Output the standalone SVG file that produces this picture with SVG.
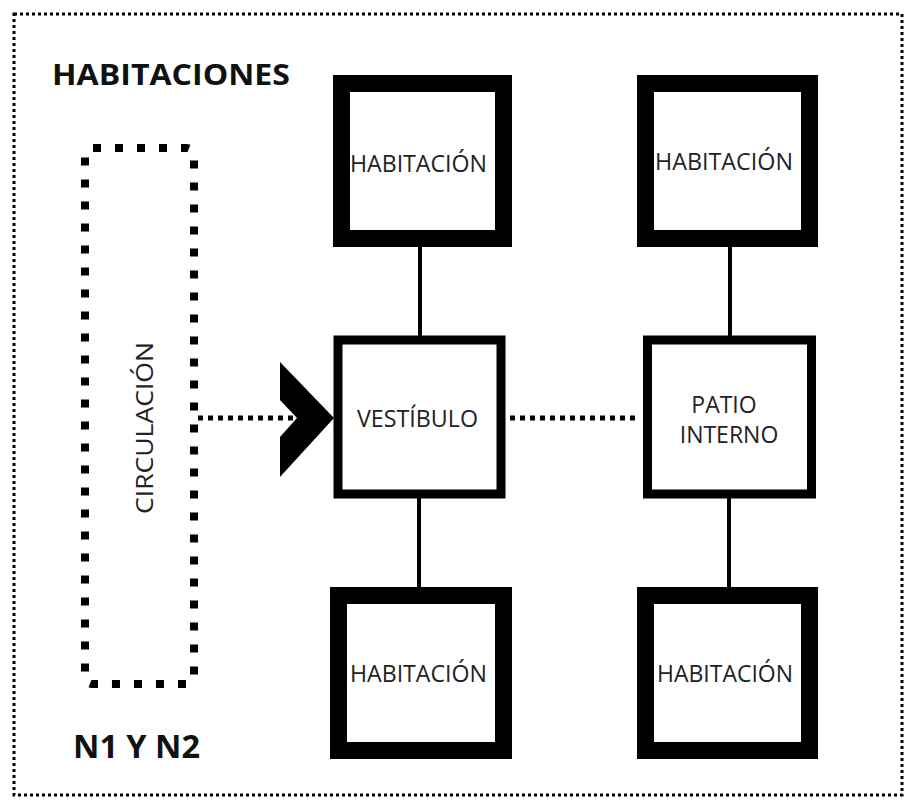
<svg xmlns="http://www.w3.org/2000/svg" width="914" height="804" viewBox="0 0 914 804">
<style>
.lbl{font-family:"Open Sans","Liberation Sans",sans-serif;font-size:23px;fill:#222;text-anchor:middle}
.ttl{font-family:"Open Sans","Liberation Sans",sans-serif;font-weight:bold;fill:#111}
.room{fill:#fff;stroke:#000;stroke-width:17}
.mid{fill:#fff;stroke:#000;stroke-width:9}
.solid{stroke:#000;stroke-width:4;fill:none}
.dots{stroke:#000;stroke-width:5;stroke-dasharray:5 5;fill:none}
</style>
<rect width="914" height="804" fill="#fff"/>
<rect x="14" y="14" width="888" height="781" fill="none" stroke="#000" stroke-width="3" stroke-dasharray="3 3"/>
<text class="ttl" x="52" y="85" font-size="28" textLength="238" lengthAdjust="spacingAndGlyphs">HABITACIONES</text>
<text class="ttl" x="73" y="758" font-size="32" textLength="127" lengthAdjust="spacingAndGlyphs">N1 Y N2</text>

<g id="connectors">
<line class="solid" x1="420" y1="247" x2="420" y2="336"/>
<line class="solid" x1="730" y1="247" x2="730" y2="336"/>
<line class="solid" x1="419" y1="498" x2="419" y2="588"/>
<line class="solid" x1="729" y1="498" x2="729" y2="588"/>
<line class="dots" x1="198" y1="418" x2="296" y2="418"/>
<line class="dots" x1="510" y1="418" x2="640" y2="418"/>
<polygon points="280,362 334,418 280,477 280,437 297,418 280,400" fill="#000"/>
</g>

<g id="circulacion">
<rect x="85" y="148" width="109" height="536" rx="8" fill="none" stroke="#000" stroke-width="8" stroke-dasharray="8 14"/>
<text class="lbl" transform="translate(153,428) rotate(-90)" x="0" y="0" textLength="172" lengthAdjust="spacingAndGlyphs">CIRCULACIÓN</text>
</g>

<g id="hab-tl">
<rect class="room" x="341.5" y="83.5" width="162" height="155"/>
<text class="lbl" x="418.5" y="172" textLength="137" lengthAdjust="spacingAndGlyphs">HABITACIÓN</text>
</g>
<g id="hab-tr">
<rect class="room" x="645.5" y="83.5" width="164" height="155"/>
<text class="lbl" x="724" y="170" textLength="138" lengthAdjust="spacingAndGlyphs">HABITACIÓN</text>
</g>
<g id="vestibulo">
<rect class="mid" x="338" y="340" width="163" height="154"/>
<text class="lbl" x="417.5" y="427" textLength="121" lengthAdjust="spacingAndGlyphs">VESTÍBULO</text>
</g>
<g id="patio">
<rect class="mid" x="647.5" y="340" width="164" height="154"/>
<text class="lbl" x="724" y="413">PATIO</text>
<text class="lbl" x="729" y="443">INTERNO</text>
</g>
<g id="hab-bl">
<rect class="room" x="338.5" y="595.5" width="165" height="155"/>
<text class="lbl" x="418.5" y="682" textLength="137" lengthAdjust="spacingAndGlyphs">HABITACIÓN</text>
</g>
<g id="hab-br">
<rect class="room" x="645.5" y="595.5" width="164" height="155"/>
<text class="lbl" x="725" y="682" textLength="136" lengthAdjust="spacingAndGlyphs">HABITACIÓN</text>
</g>
</svg>
